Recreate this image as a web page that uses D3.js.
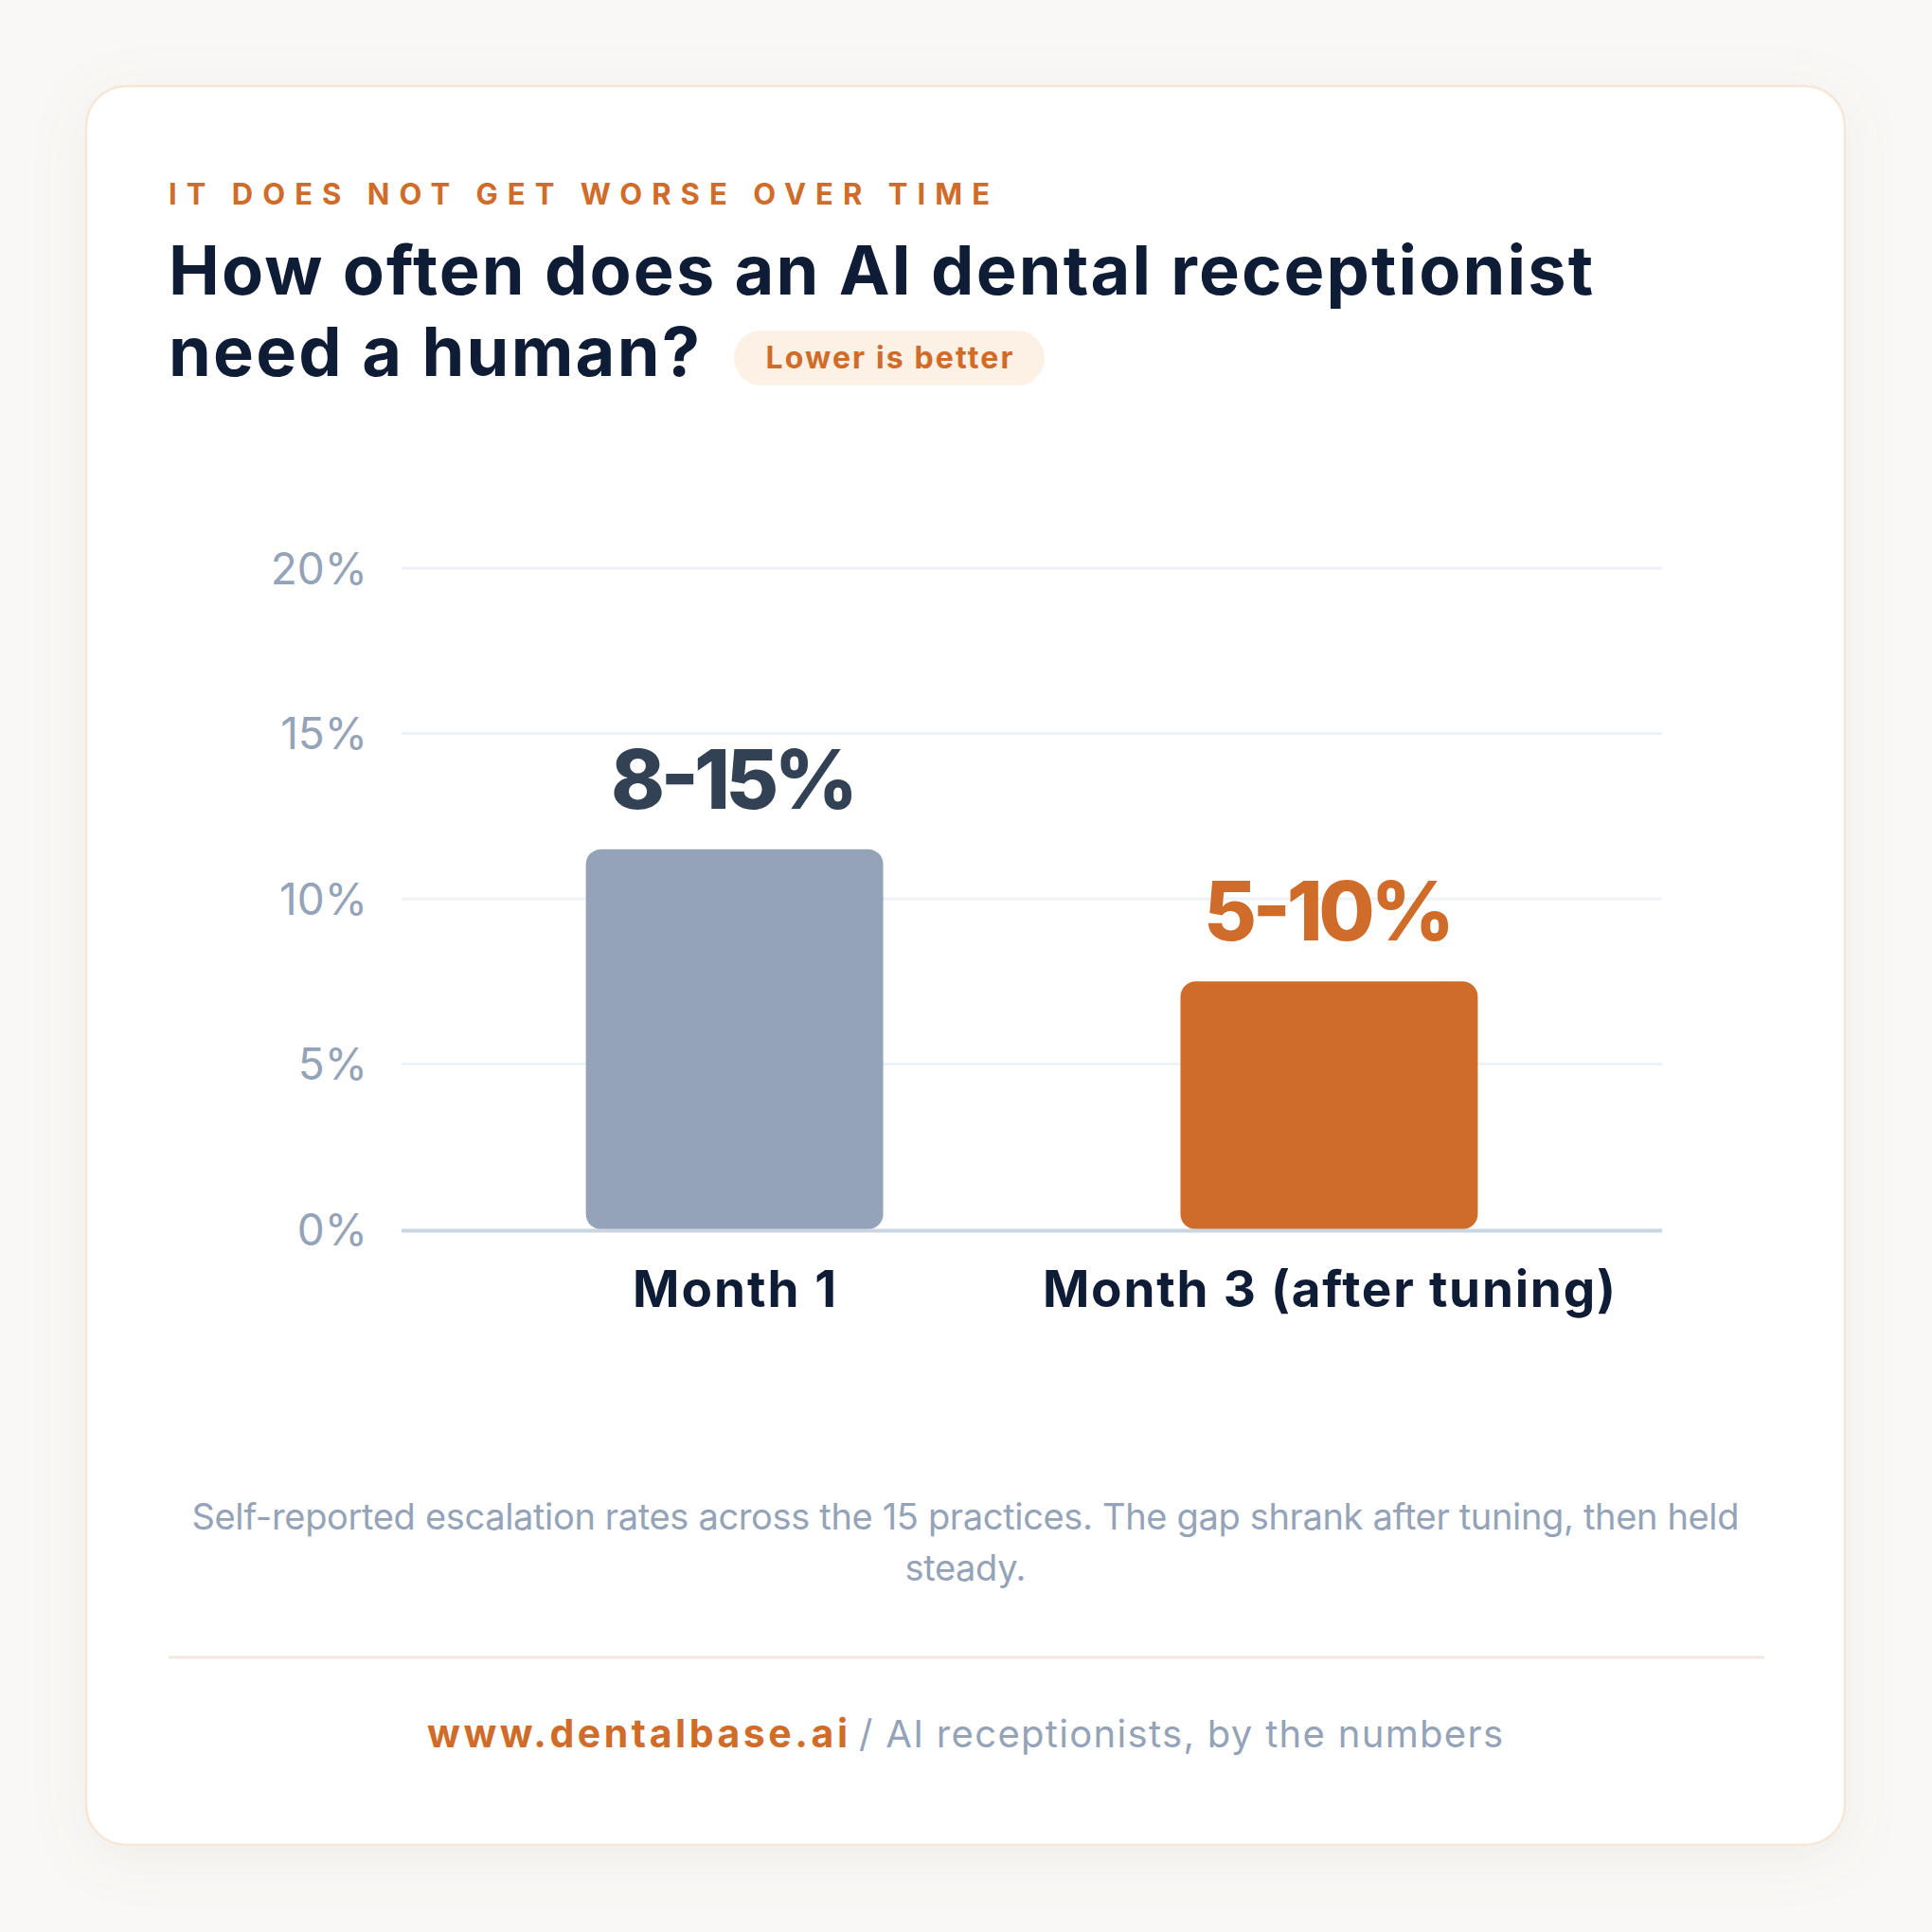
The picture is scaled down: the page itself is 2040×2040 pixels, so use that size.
<!DOCTYPE html>
<html>
<head>
<meta charset="utf-8">
<script src="https://cdn.jsdelivr.net/npm/d3@7"></script>
<style>
  html, body { margin: 0; padding: 0; background: #f9f8f6; }
  svg { display: block; }
  text { font-family: Inter, "Open Sans", sans-serif; }
</style>
</head>
<body>
<svg id="chart" width="2040" height="2040"></svg>
<script>
// ---- data ----
const categories = ["Month 1", "Month 3 (after tuning)"];
const values = [11.5, 7.5];           // bar heights (midpoint of range)
const valueLabels = ["8-15%", "5-10%"];
const yTicks = [0, 5, 10, 15, 20];
const eyebrow = "IT DOES NOT GET WORSE OVER TIME";
const titleLines = ["How often does an AI dental receptionist", "need a human?"];
const badge = "Lower is better";
const noteLines = ["Self-reported escalation rates across the 15 practices. The gap shrank after tuning, then held", "steady."];
const footerSite = "www.dentalbase.ai";
const footerRest = "/ AI receptionists, by the numbers";

// ---- styles ----
const ORANGE = "#d06c29", NAVY = "#0e1c36", SLATE = "#94a3b8";
const barColors = ["#94a3b8", ORANGE];
const labelColors = ["#334155", ORANGE];

const svg = d3.select("#chart");

// fit text horizontally to a target width by adjusting spacing
function fit(sel, w) {
  sel.attr("textLength", w).attr("lengthAdjust", "spacing");
  return sel;
}

// background + card
const defs = svg.append("defs");
const f = defs.append("filter").attr("id", "shadow").attr("x", "-10%").attr("y", "-10%").attr("width", "120%").attr("height", "120%");
f.append("feDropShadow").attr("dx", 0).attr("dy", 12).attr("stdDeviation", 28).attr("flood-color", "#8a7a66").attr("flood-opacity", 0.09);

svg.append("rect").attr("width", 2040).attr("height", 2040).attr("fill", "#f9f8f6");
svg.append("rect").attr("x", 91).attr("y", 91).attr("width", 1857).attr("height", 1857)
  .attr("rx", 42).attr("fill", "#ffffff").attr("stroke", "#f6e6d5").attr("stroke-width", 2.5)
  .attr("filter", "url(#shadow)");

// eyebrow
fit(svg.append("text").attr("x", 178).attr("y", 216)
  .attr("font-size", 31).attr("font-weight", 700).attr("fill", ORANGE)
  .text(eyebrow), 867);

// title
titleLines.forEach((t, i) => {
  const widths = [1504, 561];
  fit(svg.append("text").attr("x", 178).attr("y", 311 + i * 86)
    .attr("font-size", 72).attr("font-weight", 700).attr("fill", NAVY)
    .text(t), widths[i]);
});

// badge
svg.append("rect").attr("x", 775).attr("y", 349).attr("width", 328).attr("height", 58)
  .attr("rx", 29).attr("fill", "#fdf0e5");
fit(svg.append("text").attr("x", 939).attr("y", 389).attr("text-anchor", "middle")
  .attr("font-size", 32).attr("font-weight", 700).attr("fill", ORANGE)
  .text(badge), 261);

// ---- chart ----
const x = d3.scaleBand().domain(categories).range([424, 1755]).paddingInner(0.5).paddingOuter(0.31);
const y = d3.scaleLinear().domain([0, 20]).range([1298, 600]);

const g = svg.append("g");

// gridlines
g.selectAll("line.grid").data(yTicks.filter(d => d > 0)).join("line")
  .attr("class", "grid")
  .attr("x1", 424).attr("x2", 1755)
  .attr("y1", d => y(d)).attr("y2", d => y(d))
  .attr("stroke", "#eef2f6").attr("stroke-width", 3);

// y axis labels
const yAxis = d3.axisLeft(y).tickValues(yTicks).tickFormat(d => d + "%").tickSize(0).tickPadding(0);
const ya = g.append("g").attr("transform", "translate(388,0)").call(yAxis);
ya.select(".domain").remove();
ya.selectAll("text").attr("font-size", 46).attr("font-weight", 400).attr("fill", SLATE)
  .attr("font-family", "Inter, sans-serif").attr("dy", "0.35em");

// bars
g.selectAll("rect.bar").data(categories).join("rect")
  .attr("class", "bar")
  .attr("x", d => x(d)).attr("width", x.bandwidth())
  .attr("y", (d, i) => y(values[i])).attr("height", (d, i) => y(0) - y(values[i]))
  .attr("rx", 16).attr("fill", (d, i) => barColors[i]);

// baseline
g.append("line").attr("x1", 424).attr("x2", 1755).attr("y1", y(0) + 1.5).attr("y2", y(0) + 1.5)
  .attr("stroke", "#cbd5e1").attr("stroke-width", 4);

// value labels
const vw = [261, 265];
g.selectAll("text.val").data(categories).join("text")
  .attr("class", "val")
  .attr("x", d => x(d) + x.bandwidth() / 2)
  .attr("y", (d, i) => y(values[i]) - 43)
  .attr("text-anchor", "middle").attr("font-size", 86).attr("font-weight", 800)
  .attr("fill", (d, i) => labelColors[i])
  .text((d, i) => valueLabels[i])
  .each(function(d, i) { fit(d3.select(this), vw[i]); });

// category labels
const cw = [215, 605];
g.selectAll("text.cat").data(categories).join("text")
  .attr("class", "cat")
  .attr("x", d => x(d) + x.bandwidth() / 2)
  .attr("y", 1380)
  .attr("text-anchor", "middle").attr("font-size", 53).attr("font-weight", 700)
  .attr("fill", NAVY)
  .text(d => d)
  .each(function(d, i) { fit(d3.select(this), cw[i]); });

// footnote
const nw = [1634, 128];
noteLines.forEach((t, i) => {
  fit(svg.append("text").attr("x", 1019.5).attr("y", 1615 + i * 54).attr("text-anchor", "middle")
    .attr("font-size", 38).attr("font-weight", 400).attr("fill", SLATE).text(t), nw[i]);
});

// divider
svg.append("line").attr("x1", 178).attr("x2", 1863).attr("y1", 1750).attr("y2", 1750)
  .attr("stroke", "#f1e8de").attr("stroke-width", 3);

// footer
fit(svg.append("text").attr("x", 451).attr("y", 1845).attr("font-size", 41).attr("font-weight", 700)
  .attr("fill", ORANGE).text(footerSite), 444);
fit(svg.append("text").attr("x", 907).attr("y", 1845).attr("font-size", 40).attr("font-weight", 400)
  .attr("fill", SLATE).text(footerRest), 680);
</script>
</body>
</html>
